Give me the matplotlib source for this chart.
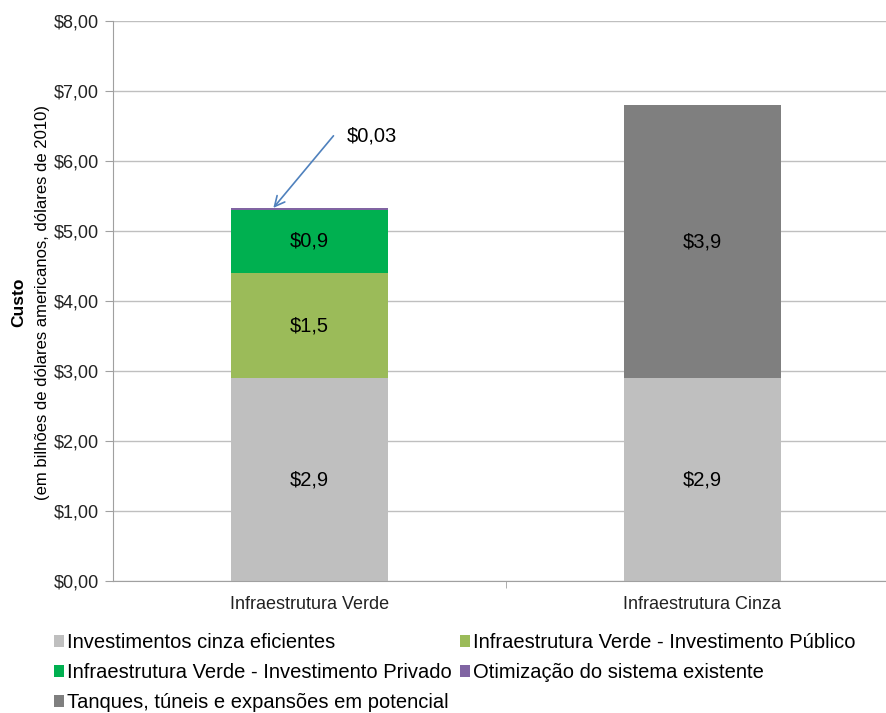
import numpy as np
import matplotlib.pyplot as plt

plt.rcParams['font.family'] = ['Liberation Sans', 'DejaVu Sans']

categorias = ["Infraestrutura Verde", "Infraestrutura Cinza"]

# segments stacked from bottom to top (billions of 2010 USD)
series = [
    "Investimentos cinza eficientes",
    "Infraestrutura Verde - Investimento Público",
    "Infraestrutura Verde - Investimento Privado",
    "Otimização do sistema existente",
    "Tanques, túneis e expansões em potencial",
]
valores = [
    [2.9, 2.9],
    [1.5, 0.0],
    [0.9, 0.0],
    [0.03, 0.0],
    [0.0, 3.9],
]
rotulos = [
    ["$2,9", "$2,9"],
    ["$1,5", ""],
    ["$0,9", ""],
    ["", ""],
    ["", "$3,9"],
]
cores = ["#BFBFBF", "#9BBB59", "#00B050", "#8064A2", "#7F7F7F"]

fig = plt.figure(figsize=(8.87, 7.13), dpi=100)
ax = fig.add_axes([113 / 887, 132 / 713, 786 / 887, 560 / 713])

x = np.arange(len(categorias))
base = np.zeros(len(categorias))
barras = []
for nome, vals, labs, cor in zip(series, valores, rotulos, cores):
    vals = np.array(vals)
    b = ax.bar(x, vals, width=0.4, bottom=base, color=cor, label=nome, zorder=2)
    barras.append(b)
    for xi, v, bot, t in zip(x, vals, base, labs):
        if t:
            ax.text(xi, bot + v / 2, t, ha='center', va='center', fontsize=14.5)
    base = base + vals

# small purple slice gets an arrow callout
ax.annotate("", xy=(-0.092, base[0]), xytext=(0.061, 6.36),
            arrowprops=dict(arrowstyle='->', color='#4F81BD', lw=1.2,
                            shrinkA=0, shrinkB=0, mutation_scale=18))
ax.text(0.094, 6.36, "$0,03", fontsize=14.5, va='center', ha='left')

ax.set_xlim(-0.5, 1.5)
ax.set_ylim(0, 8)
ax.set_yticks(np.arange(0, 9, 1))
ax.set_yticklabels([f"${v},00" for v in range(9)], fontsize=13, color='#222222')
ax.set_xticks(x)
ax.set_xticklabels(categorias, fontsize=13, color='#222222')
ax.set_xticks([0.5], minor=True)
ax.tick_params(axis='x', which='major', length=0, pad=11)
ax.tick_params(axis='x', which='minor', length=5, color='#A0A0A0')
ax.tick_params(axis='y', length=6, color='#A0A0A0', pad=4)
ax.grid(axis='y', color='#BFBFBF', lw=1, zorder=0)
ax.set_axisbelow(True)
for s in ['top', 'right']:
    ax.spines[s].set_visible(False)
for s in ['left', 'bottom']:
    ax.spines[s].set_color('#A0A0A0')

fig.text(0.021, 0.576, "Custo", rotation=90, fontsize=12.5, fontweight='bold',
         ha='center', va='center')
fig.text(0.048, 0.576, "(em bilhões de dólares americanos, dólares de 2010)",
         rotation=90, fontsize=12, ha='center', va='center')

# legend filled column-first, so reorder to get the row layout
ordem = [0, 2, 4, 1, 3]
fig.legend([barras[i] for i in ordem], [series[i] for i in ordem],
           ncol=2, loc='upper left', bbox_to_anchor=(0.061, 0.112),
           frameon=False, fontsize=14.5, handlelength=0.5, handleheight=0.5,
           handletextpad=0.15, columnspacing=0.4, labelspacing=0.55,
           borderaxespad=0, borderpad=0)

fig.savefig("out.png", dpi=100)
